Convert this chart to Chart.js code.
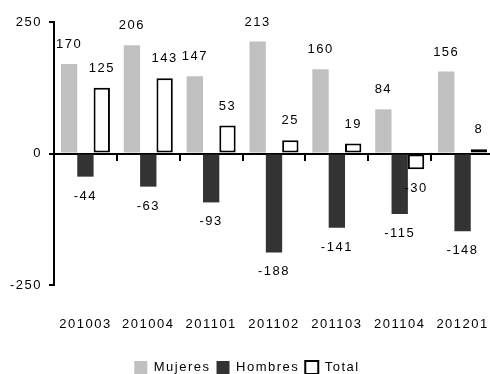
<!DOCTYPE html>
<html><head><meta charset="utf-8">
<style>
html,body{margin:0;padding:0;overflow:hidden;background:#fff;width:490px;height:374px}
#c{position:absolute;left:0;top:0}
</style>
<script src="https://cdn.jsdelivr.net/npm/chart.js@4/dist/chart.umd.min.js"></script>
</head><body>
<canvas id="c" width="495" height="384"></canvas>
<script>
const categories = ['201003','201004','201101','201102','201103','201104','201201'];
const mujeres = [170, 206, 147, 213, 160, 84, 156];
const hombres = [-44, -63, -93, -188, -141, -115, -148];
const total = [125, 143, 53, 25, 19, -30, 8];
const yTicks = [-250, 0, 250];

const FONT = "'Liberation Sans', Arial, sans-serif";
const font = {family: FONT, size: 13};

const spacing = {
  id: 'spacing',
  beforeUpdate(c){ c.ctx.letterSpacing = '1.5px'; },
  beforeLayout(c){ c.ctx.letterSpacing = '1.5px'; },
  beforeDraw(c){ c.ctx.letterSpacing = '1.5px'; }
};

const valueLabels = {
  id: 'valueLabels',
  afterDatasetsDraw(c){
    const ctx = c.ctx;
    ctx.save();
    ctx.letterSpacing = '1.5px';
    ctx.font = "13px " + FONT;
    ctx.fillStyle = '#000';
    ctx.textAlign = 'center';
    ctx.textBaseline = 'middle';
    c.data.datasets.forEach((ds, i) => {
      const meta = c.getDatasetMeta(i);
      meta.data.forEach((bar, j) => {
        const v = ds.data[j];
        const p = bar.getProps(['x','y'], true);
        ctx.fillText(String(v), p.x, v >= 0 ? p.y - 19.5 : p.y + 19.5);
      });
    });
    ctx.restore();
  }
};

const barOpts = {categoryPercentage: 0.78, barPercentage: 1, xAxisID: 'x'};

new Chart(document.getElementById('c'), {
  type: 'bar',
  data: {
    labels: categories,
    datasets: [
      Object.assign({label: 'Mujeres', data: mujeres, backgroundColor: '#C0C0C0', borderWidth: 0}, barOpts),
      Object.assign({label: 'Hombres', data: hombres, backgroundColor: '#333333', borderWidth: 0}, barOpts),
      Object.assign({label: 'Total', data: total, backgroundColor: '#FFFFFF', borderColor: '#000000', borderWidth: 2, borderSkipped: false}, barOpts)
    ]
  },
  options: {
    responsive: false,
    animation: false,
    events: [],
    layout: {padding: {top: 22, right: 1, left: 0, bottom: 0}},
    plugins: {
      tooltip: {enabled: false},
      legend: {
        position: 'bottom',
        labels: {
          font: font, color: '#000', boxWidth: 13, boxHeight: 13, padding: 6
        }
      }
    },
    scales: {
      x: {
        type: 'category',
        position: {y: 0},
        offset: true,
        z: 1,
        grid: {offset: true, drawOnChartArea: false, drawTicks: true, tickLength: 6, color: '#000', lineWidth: 2},
        border: {display: true, color: '#000', width: 2},
        ticks: {display: false}
      },
      x2: {
        type: 'category',
        position: 'bottom',
        labels: categories,
        offset: true,
        grid: {display: true, drawOnChartArea: false, drawTicks: true, tickLength: 32, color: 'rgba(0,0,0,0)'},
        border: {display: false},
        ticks: {color: '#000', font: font, padding: 0, maxRotation: 0, autoSkip: false},
        afterFit(s){ s.height = 70; }
      },
      y: {
        min: -250, max: 250,
        afterBuildTicks(s){ s.ticks = yTicks.map(v => ({value: v})); },
        ticks: {color: '#000', font: font, padding: 7},
        grid: {drawOnChartArea: false, drawTicks: true, tickLength: 5, color: '#000', lineWidth: 2},
        border: {display: true, color: '#000', width: 2},
        afterFit(s){ s.width = 54; }
      }
    }
  },
  plugins: [spacing, valueLabels]
});
</script>
</body></html>
